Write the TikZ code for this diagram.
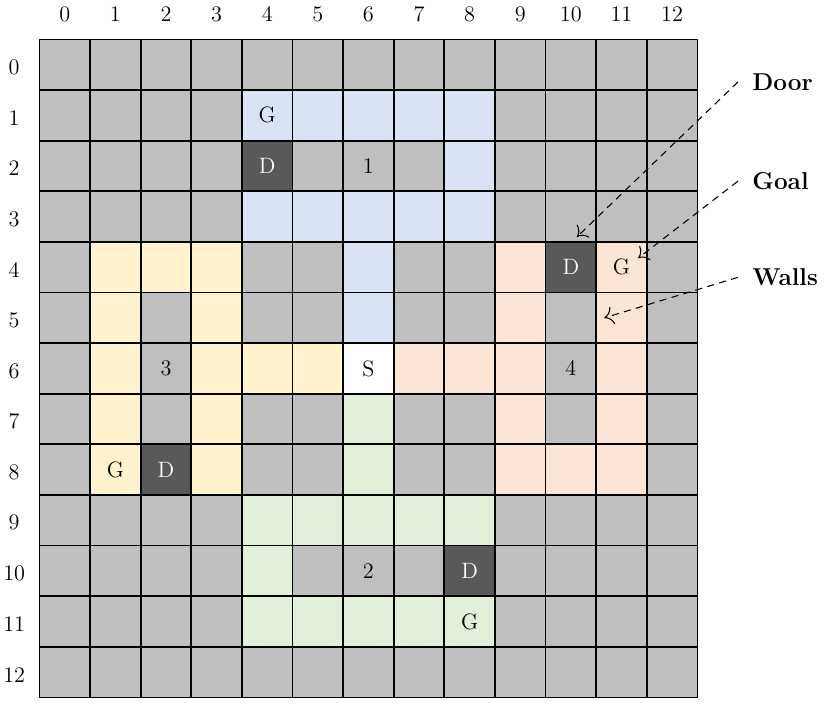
\documentclass[tikz,border=0pt]{standalone}
\usepackage{fontspec}
\usepackage{tikz}
\usetikzlibrary{arrows.meta,calc}

\definecolor{wl}{HTML}{BFBFBF}
\definecolor{dr}{HTML}{595959}
\definecolor{st}{HTML}{FFFFFF}
\definecolor{rA}{HTML}{DAE3F3}
\definecolor{rB}{HTML}{E2F0D9}
\definecolor{rC}{HTML}{FFF2CC}
\definecolor{rD}{HTML}{FBE5D6}

\begin{document}
\begin{tikzpicture}[cell/.style={draw,rectangle,minimum size=1cm,inner sep=0pt,outer sep=0pt,line width=1pt},
        tag/.style={font=\fontsize{12.5}{14}\selectfont},
        axis/.style={font=\fontsize{12.5}{14}\selectfont},
        note/.style={anchor=west,inner xsep=8pt,font=\fontsize{13.7}{16}\selectfont\bfseries},
        pointer/.style={-{To[length=5pt,width=10pt]},dash pattern=on 4pt off 3pt,line width=0.6pt}]

        \useasboundingbox (-0.78,-13.16) rectangle (15.62,0.78);

        % the map, one row at a time
        \foreach \c [count=\x from 0] in {wl,wl,wl,wl,wl,wl,wl,wl,wl,wl,wl,wl,wl} \node[cell,fill=\c] (c-\x-0) at (\x+.5,-0.5) {};
        \foreach \c [count=\x from 0] in {wl,wl,wl,wl,rA,rA,rA,rA,rA,wl,wl,wl,wl} \node[cell,fill=\c] (c-\x-1) at (\x+.5,-1.5) {};
        \foreach \c [count=\x from 0] in {wl,wl,wl,wl,dr,wl,wl,wl,rA,wl,wl,wl,wl} \node[cell,fill=\c] (c-\x-2) at (\x+.5,-2.5) {};
        \foreach \c [count=\x from 0] in {wl,wl,wl,wl,rA,rA,rA,rA,rA,wl,wl,wl,wl} \node[cell,fill=\c] (c-\x-3) at (\x+.5,-3.5) {};
        \foreach \c [count=\x from 0] in {wl,rC,rC,rC,wl,wl,rA,wl,wl,rD,dr,rD,wl} \node[cell,fill=\c] (c-\x-4) at (\x+.5,-4.5) {};
        \foreach \c [count=\x from 0] in {wl,rC,wl,rC,wl,wl,rA,wl,wl,rD,wl,rD,wl} \node[cell,fill=\c] (c-\x-5) at (\x+.5,-5.5) {};
        \foreach \c [count=\x from 0] in {wl,rC,wl,rC,rC,rC,st,rD,rD,rD,wl,rD,wl} \node[cell,fill=\c] (c-\x-6) at (\x+.5,-6.5) {};
        \foreach \c [count=\x from 0] in {wl,rC,wl,rC,wl,wl,rB,wl,wl,rD,wl,rD,wl} \node[cell,fill=\c] (c-\x-7) at (\x+.5,-7.5) {};
        \foreach \c [count=\x from 0] in {wl,rC,dr,rC,wl,wl,rB,wl,wl,rD,rD,rD,wl} \node[cell,fill=\c] (c-\x-8) at (\x+.5,-8.5) {};
        \foreach \c [count=\x from 0] in {wl,wl,wl,wl,rB,rB,rB,rB,rB,wl,wl,wl,wl} \node[cell,fill=\c] (c-\x-9) at (\x+.5,-9.5) {};
        \foreach \c [count=\x from 0] in {wl,wl,wl,wl,rB,wl,wl,wl,dr,wl,wl,wl,wl} \node[cell,fill=\c] (c-\x-10) at (\x+.5,-10.5) {};
        \foreach \c [count=\x from 0] in {wl,wl,wl,wl,rB,rB,rB,rB,rB,wl,wl,wl,wl} \node[cell,fill=\c] (c-\x-11) at (\x+.5,-11.5) {};
        \foreach \c [count=\x from 0] in {wl,wl,wl,wl,wl,wl,wl,wl,wl,wl,wl,wl,wl} \node[cell,fill=\c] (c-\x-12) at (\x+.5,-12.5) {};

        % axes
        \foreach \x in {0,...,12} \node[axis] (col-\x) at (\x+.5,0.5) {\x};
        \foreach \y in {0,...,12} \node[axis] (row-\y) at (-0.5,-\y-.55) {\y};

        % rooms
        \node[tag] (g1) at (c-4-1) {G};
        \node[tag,white] (d1) at (c-4-2) {D};
        \node[tag] (r1) at (c-6-2) {1};
        \node[tag] (r2) at (c-6-10) {2};
        \node[tag,white] (d2) at (c-8-10) {D};
        \node[tag] (g2) at (c-8-11) {G};
        \node[tag] (r3) at (c-2-6) {3};
        \node[tag] (g3) at (c-1-8) {G};
        \node[tag,white] (d3) at (c-2-8) {D};
        \node[tag] (r4) at (c-10-6) {4};
        \node[tag,white] (d4) at (c-10-4) {D};
        \node[tag] (g4) at (c-11-4) {G};
        \node[tag] (s) at (c-6-6) {S};

        % legend
        \node[note] (door) at (13.8,-0.84) {Door};
        \node[note] (goal) at (13.8,-2.8) {Goal};
        \node[note] (walls) at (13.8,-4.7) {Walls};

        \coordinate (door-tip) at ($(c-10-4.north)+(0.12,0.1)$);
        \coordinate (goal-tip) at ($(c-11-4.center)+(0.33,0.18)$);
        \coordinate (walls-tip) at ($(c-11-5.west)+(0.16,0)$);

        \draw[pointer] (door.west) -- (door-tip);
        \draw[pointer] (goal.west) -- (goal-tip);
        \draw[pointer] (walls.west) -- (walls-tip);
\end{tikzpicture}
\end{document}
